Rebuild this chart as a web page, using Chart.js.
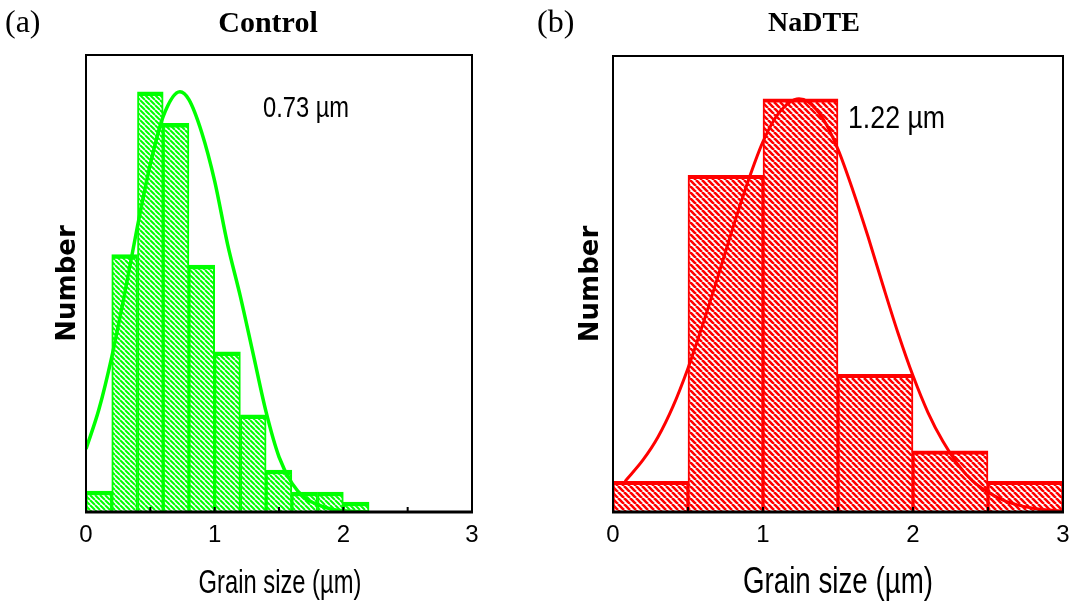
<!DOCTYPE html>
<html>
<head>
<meta charset="utf-8">
<script src="https://cdn.jsdelivr.net/npm/chart.js@4.4.1/dist/chart.umd.min.js"></script>
<style>
  html, body { margin: 0; padding: 0; background: #fff; }
  body { width: 1075px; height: 612px; position: relative; overflow: hidden; }
  .panel { position: absolute; top: 0; height: 612px; }
  .lbl { position: absolute; white-space: nowrap; line-height: 1; color: #000; }
  .serif { font-family: "Liberation Serif", "Times New Roman", serif; }
  .sans { font-family: "Liberation Sans", Arial, sans-serif; }
  .mid { transform: translateX(-50%); }
</style>
</head>
<body>
<div class="panel" style="left:0;width:540px"><canvas id="controlChart"></canvas></div>
<div class="panel" style="left:540px;width:535px"><canvas id="nadteChart"></canvas></div>

<div class="lbl serif" style="left:5px;top:5px;font-size:32px">(a)</div>
<div class="lbl serif mid" style="left:268px;top:7px;font-size:30px;font-weight:bold">Control</div>
<div class="lbl serif" style="left:537px;top:5px;font-size:32px">(b)</div>
<div class="lbl serif mid" style="left:814px;top:8px;font-size:28px;font-weight:bold">NaDTE</div>
<div class="lbl sans" style="left:263px;top:92px;font-size:30px;transform:scaleX(0.79);transform-origin:0 0">0.73 µm</div>
<div class="lbl sans" style="left:848px;top:101px;font-size:32px;transform:scaleX(0.835);transform-origin:0 0">1.22 µm</div>
<div class="lbl sans" style="left:280px;top:565px;font-size:33px;transform:translateX(-50%) scaleX(0.72)">Grain size (µm)</div>
<div class="lbl sans" style="left:838px;top:563px;font-size:36px;transform:translateX(-50%) scaleX(0.77)">Grain size (µm)</div>

<script>
  "use strict";
  const SANS = "'Liberation Sans', Arial, sans-serif";

  // Control: histogram bins (left edges, width 0.2 um) and counts
  const controlBinWidth = 0.2;
  const controlBins = [0, 0.2, 0.4, 0.6, 0.8, 1.0, 1.2, 1.4, 1.6, 1.8, 2.0];
  const controlCounts = [4, 49, 80, 74, 47, 30.5, 18.5, 8, 3.8, 3.8, 1.9];
  // Control: fitted curve
  const controlFitX = [0, 0.1, 0.2, 0.3, 0.4, 0.5, 0.6, 0.73, 0.8, 0.9, 1.0, 1.1, 1.2, 1.3, 1.4, 1.5, 1.6, 1.7, 1.8, 1.9, 2.0, 2.2];
  const controlFitY = [12, 19.5, 29.5, 41.5, 54.4, 66.2, 75.3, 80, 78.5, 72.2, 63, 51, 41, 30, 19, 10.5, 5.5, 2.7, 1.4, 0.6, 0.25, 0];

  // NaDTE: histogram bins (left edges, width 0.5 um) and counts
  const nadteBinWidth = 0.5;
  const nadteBins = [0, 0.5, 1.0, 1.5, 2.0, 2.5];
  const nadteCounts = [2, 22, 27, 9, 4, 2];
  // NaDTE: fitted curve
  const nadteFitX = [0.08, 0.2, 0.3, 0.4, 0.5, 0.6, 0.7, 0.8, 0.9, 1.0, 1.1, 1.24, 1.3, 1.4, 1.5, 1.6, 1.7, 1.8, 1.9, 2.0, 2.1, 2.2, 2.3, 2.4, 2.5, 2.6, 2.7, 2.8, 2.9, 3.0];
  const nadteFitY = [2.0, 3.4, 4.9, 6.9, 9.4, 12.3, 15.4, 18.6, 21.6, 24.2, 26.0, 27, 26.8, 25.7, 23.7, 21.0, 18.0, 14.8, 11.7, 8.9, 6.5, 4.6, 3.1, 2.0, 1.3, 0.77, 0.45, 0.25, 0.13, 0.07];

  const xTickStep = 0.5;

  function hatch(ctx, color, size, lineWidth) {
    const c = document.createElement("canvas");
    c.width = size;
    c.height = size;
    const g = c.getContext("2d");
    g.fillStyle = "#fff";
    g.fillRect(0, 0, size, size);
    g.strokeStyle = color;
    g.lineWidth = lineWidth;
    g.beginPath();
    for (const k of [-size, 0, size]) {
      g.moveTo(k, 0);
      g.lineTo(k + size, size);
    }
    g.stroke();
    return ctx.createPattern(c, "repeat");
  }

  // box around the plot + small inward ticks on the x axis
  const framePlugin = {
    id: "frame",
    afterDatasetsDraw(chart) {
      const { ctx, chartArea: a, scales: { x } } = chart;
      ctx.save();
      ctx.strokeStyle = "#000";
      ctx.lineWidth = 2;
      ctx.beginPath();
      x.ticks.forEach((t) => {
        if (t.value > x.min && t.value < x.max) {
          const px = x.getPixelForValue(t.value);
          ctx.moveTo(px, a.bottom);
          ctx.lineTo(px, a.bottom - 5);
        }
      });
      ctx.stroke();
      ctx.strokeRect(a.left, a.top, a.right - a.left, a.bottom - a.top);
      ctx.lineWidth = 3;
      ctx.beginPath();
      ctx.moveTo(a.left - 1, a.bottom);
      ctx.lineTo(a.right + 1, a.bottom);
      ctx.stroke();
      ctx.restore();
    },
  };

  function makeChart(id, cfg) {
    const ctx = document.getElementById(id).getContext("2d");
    const bars = cfg.bins.map((b, i) => ({ x: b + cfg.binWidth / 2, y: cfg.counts[i] }));
    const fit = cfg.fitX.map((v, i) => ({ x: v, y: cfg.fitY[i] }));
    return new Chart(ctx, {
      type: "bar",
      data: {
        datasets: [
          {
            type: "line",
            data: fit,
            borderColor: cfg.color,
            borderWidth: cfg.lineWidth,
            pointRadius: 0,
            cubicInterpolationMode: "monotone",
            fill: false,
            order: 0,
          },
          {
            type: "bar",
            data: bars,
            backgroundColor: hatch(ctx, cfg.color, cfg.hatchSize, cfg.hatchLine),
            borderColor: cfg.color,
            borderWidth: cfg.border,
            borderSkipped: false,
            barPercentage: 1,
            categoryPercentage: 1,
            order: 1,
          },
        ],
      },
      options: {
        responsive: true,
        maintainAspectRatio: false,
        animation: false,
        layout: { padding: { top: cfg.top, right: cfg.right, left: 0, bottom: 0 } },
        plugins: { legend: { display: false }, tooltip: { enabled: false } },
        scales: {
          x: {
            type: "linear",
            min: 0,
            max: 3,
            offset: false,
            grid: { display: false, offset: false, drawTicks: false },
            border: { display: false },
            ticks: {
              stepSize: xTickStep,
              autoSkip: false,
              maxRotation: 0,
              padding: 11,
              color: "#000",
              font: { family: SANS, size: 24, lineHeight: 1 },
              callback: (v) => (Number.isInteger(v) ? v : ""),
            },
            title: { display: false },
            afterFit: (s) => {
              s.height = 100;
              s.paddingLeft = 0;
              s.paddingRight = 0;
            },
          },
          y: {
            min: 0,
            max: cfg.yMax,
            grid: { display: false, drawTicks: false },
            border: { display: false },
            ticks: { display: false },
            title: {
              display: true,
              text: "Number",
              color: "#000",
              font: { family: "'DejaVu Sans', sans-serif", size: 26, weight: "bold", lineHeight: 1 },
              padding: { top: cfg.yTitlePad, bottom: 0 },
            },
            afterFit: (s) => { s.width = cfg.yWidth; },
          },
        },
      },
      plugins: [framePlugin],
    });
  }

  makeChart("controlChart", {
    bins: controlBins, binWidth: controlBinWidth, counts: controlCounts,
    fitX: controlFitX, fitY: controlFitY,
    color: "#00ff00", lineWidth: 3.5, hatchSize: 5, hatchLine: 2.0,
    border: { top: 4.5, left: 2, right: 2, bottom: 0 },
    top: 55, right: 68, yWidth: 86, yMax: 87, yTitlePad: 55,
  });

  makeChart("nadteChart", {
    bins: nadteBins, binWidth: nadteBinWidth, counts: nadteCounts,
    fitX: nadteFitX, fitY: nadteFitY,
    color: "#ff0000", lineWidth: 3, hatchSize: 6, hatchLine: 2.6,
    border: { top: 4, left: 2, right: 2, bottom: 0 },
    top: 56, right: 12, yWidth: 73, yMax: 29.8, yTitlePad: 38.5,
  });
</script>
</body>
</html>
